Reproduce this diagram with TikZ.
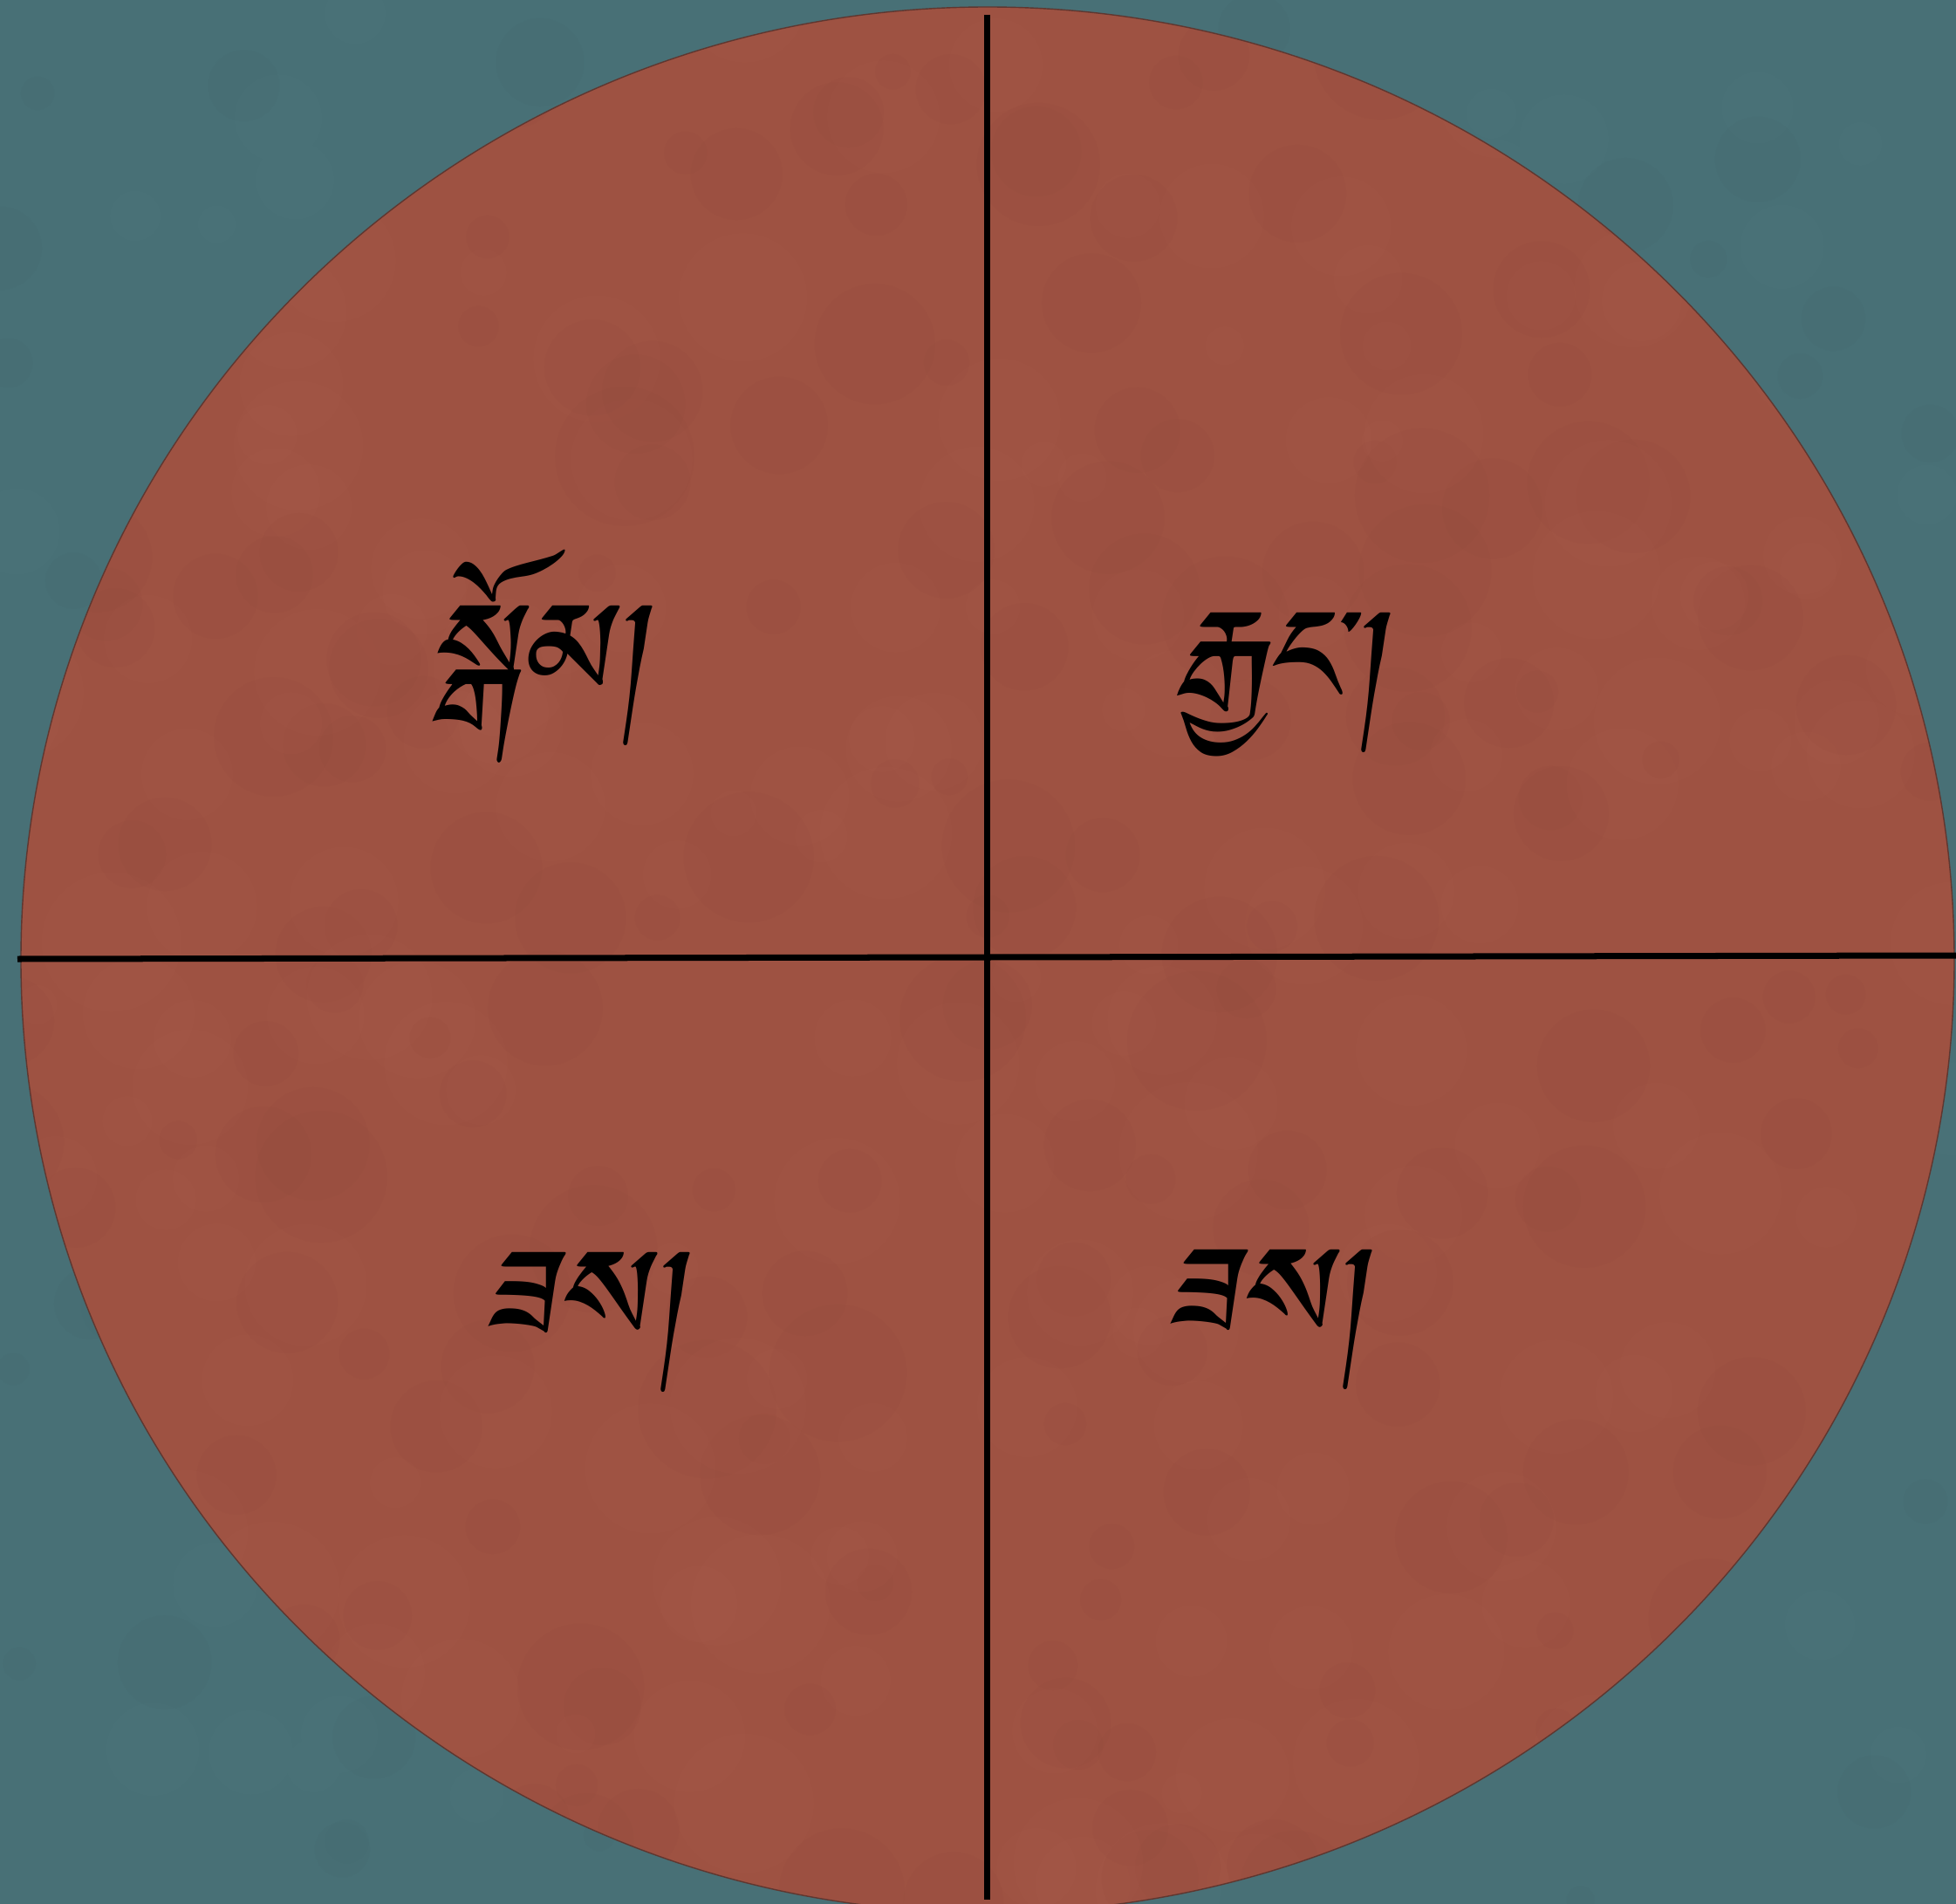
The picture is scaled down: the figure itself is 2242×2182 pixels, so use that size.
\documentclass[tikz,border=0pt]{standalone}
\usepackage{fontspec}
\newfontfamily\tibfont[Script=Tibetan,FakeSlant=0.15]{Jomolhari}
\definecolor{bgteal}{RGB}{72,112,118}
\definecolor{disc}{RGB}{158,82,66}
\definecolor{discedge}{RGB}{95,55,48}
\definecolor{discdark}{RGB}{140,70,56}
\definecolor{disclight}{RGB}{178,100,82}
\definecolor{tealdark}{RGB}{62,100,106}
\definecolor{teallight}{RGB}{84,124,130}
\tikzset{
  divider/.style={line width=0.07cm, black},
  tib/.style={font=\tibfont\fontsize{54}{60}\selectfont, inner sep=0pt}
}
\begin{document}
\begin{tikzpicture}[x=0.01cm,y=-0.01cm]
\useasboundingbox (0,0) rectangle (2242,2182);
\fill[bgteal] (0,0) rectangle (2242,2182);
\pgfmathsetseed{7}
\foreach \i in {1,...,200}{
  \pgfmathsetmacro{\px}{rnd*2242}
  \pgfmathsetmacro{\py}{rnd*2182}
  \pgfmathsetmacro{\pr}{15+rnd*40}
  \ifodd\i \fill[tealdark,opacity=0.09] (\px,\py) circle (\pr);
  \else \fill[teallight,opacity=0.09] (\px,\py) circle (\pr); \fi
}
\fill[disc] (1132,1100) ellipse [x radius=1108, y radius=1092];
\begin{scope}
\clip (1132,1100) ellipse [x radius=1108, y radius=1092];
\foreach \i in {1,...,400}{
  \pgfmathsetmacro{\px}{rnd*2242}
  \pgfmathsetmacro{\py}{rnd*2182}
  \pgfmathsetmacro{\pr}{20+rnd*60}
  \ifodd\i \fill[discdark,opacity=0.09] (\px,\py) circle (\pr);
  \else \fill[disclight,opacity=0.09] (\px,\py) circle (\pr); \fi
}
\end{scope}
\draw[discedge,line width=0.4pt] (1132,1100) ellipse [x radius=1108, y radius=1092];
\coordinate (vtop) at (1131.5,17);
\coordinate (vbot) at (1131.5,2177);
\coordinate (hleft) at (20,1099);
\coordinate (hright) at (2242,1095);
\draw[divider] (vtop) -- (vbot);
\draw[divider] (hleft) -- (hright);
\node[tib] (nw) at (614,752) {སྒོམ།};
\node[tib] (ne) at (1463,785) {རྒྱང་།};
\node[tib] (sw) at (666,1515) {ཟས།};
\node[tib] (se) at (1448,1512) {ཟས།};
\end{tikzpicture}
\end{document}
